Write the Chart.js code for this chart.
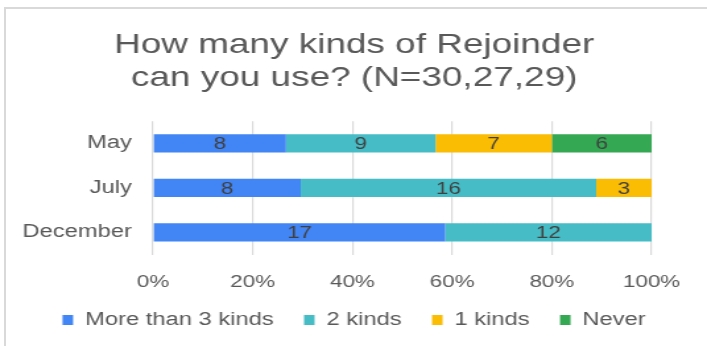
<!DOCTYPE html>
<html>
<head>
<meta charset="utf-8">
<script src="https://cdn.jsdelivr.net/npm/chart.js@4"></script>
<style>
  html, body { margin: 0; padding: 0; background: #fff; overflow: hidden; }
  #frame {
    position: absolute; left: 4px; top: 7px; width: 800px; height: 400px;
    border: 2px solid #d9d9d9; box-sizing: border-box;
  }
  /* the source picture is stretched sideways, so draw narrow and widen */
  #wrap {
    position: absolute; left: 0; top: 0; width: 536px; height: 346px;
    transform: scaleX(1.319); transform-origin: 0 0;
  }
</style>
</head>
<body>
<div id="frame"></div>
<div id="wrap"><canvas id="chart"></canvas></div>
<script>
// --- Data ---
const months = ['May', 'July', 'December'];
const moreThan3 = [8, 8, 17];
const twoKinds = [9, 16, 12];
const oneKind = [7, 3, 0];
const never = [6, 0, 0];
const xTicks = [0, 20, 40, 60, 80, 100];

const seriesNames = ['More than 3 kinds', '2 kinds', '1 kinds', 'Never'];
const seriesCounts = [moreThan3, twoKinds, oneKind, never];
const seriesColors = ['#4285F4', '#46BDC6', '#FBBC04', '#34A853'];

const totals = months.map((m, i) => seriesCounts.reduce((s, arr) => s + arr[i], 0));

// --- Value labels inside each segment ---
const segmentLabels = {
  id: 'segmentLabels',
  afterDatasetsDraw(chart) {
    const { ctx } = chart;
    ctx.save();
    ctx.font = '17px "Liberation Sans", Arial, sans-serif';
    ctx.fillStyle = '#404040';
    ctx.textAlign = 'center';
    ctx.textBaseline = 'middle';
    chart.data.datasets.forEach((ds, di) => {
      const meta = chart.getDatasetMeta(di);
      meta.data.forEach((bar, i) => {
        const v = ds.counts[i];
        if (!v) return;
        const { x, base, y } = bar.getProps(['x', 'base', 'y'], true);
        ctx.fillText(String(v), (x + base) / 2, y + 1);
      });
    });
    ctx.restore();
  }
};

const FONT = '"Liberation Sans", Arial, sans-serif';
const GREY = '#595959';

new Chart(document.getElementById('chart'), {
  type: 'bar',
  data: {
    labels: months,
    datasets: seriesNames.map((name, k) => ({
      label: name,
      counts: seriesCounts[k],
      data: seriesCounts[k].map((v, i) => v / totals[i] * 100),
      backgroundColor: seriesColors[k],
      borderWidth: 0,
      barPercentage: 0.41,
      categoryPercentage: 1,
    })),
  },
  options: {
    indexAxis: 'y',
    responsive: true,
    maintainAspectRatio: false,
    animation: false,
    layout: { padding: { top: 0, left: 1, right: 0, bottom: 7 } },
    scales: {
      x: {
        stacked: true,
        min: 0,
        max: 100,
        afterBuildTicks: (axis) => { axis.ticks = xTicks.map(v => ({ value: v })); },
        afterFit: (axis) => {
          // room on the right of the plot without narrowing the legend
          axis.paddingRight = Math.max(axis.paddingRight, 42);
          // tick padding counts twice in the axis height; trim the spare
          axis.height -= 23;
        },
        grid: { color: '#d9d9d9', lineWidth: 1.2, drawTicks: false },
        border: { display: false },
        ticks: {
          padding: 18,
          color: GREY,
          font: { family: FONT, size: 17 },
          callback: (v) => v + '%',
        },
      },
      y: {
        stacked: true,
        grid: { display: false, drawTicks: false },
        border: { display: false },
        ticks: {
          padding: 16,
          color: GREY,
          font: { family: FONT, size: 18 },
        },
      },
    },
    plugins: {
      title: {
        display: true,
        text: ['How many kinds of Rejoinder', 'can you use? (N=30,27,29)'],
        color: GREY,
        font: { family: FONT, size: 28, weight: 'normal', lineHeight: 1.2 },
        padding: { top: 28, bottom: 26 },
      },
      legend: {
        position: 'bottom',
        labels: {
          color: GREY,
          font: { family: FONT, size: 18 },
          boxWidth: 8,
          boxHeight: 10,
          padding: 23,
        },
      },
      tooltip: { enabled: false },
    },
  },
  plugins: [segmentLabels],
});
</script>
</body>
</html>
